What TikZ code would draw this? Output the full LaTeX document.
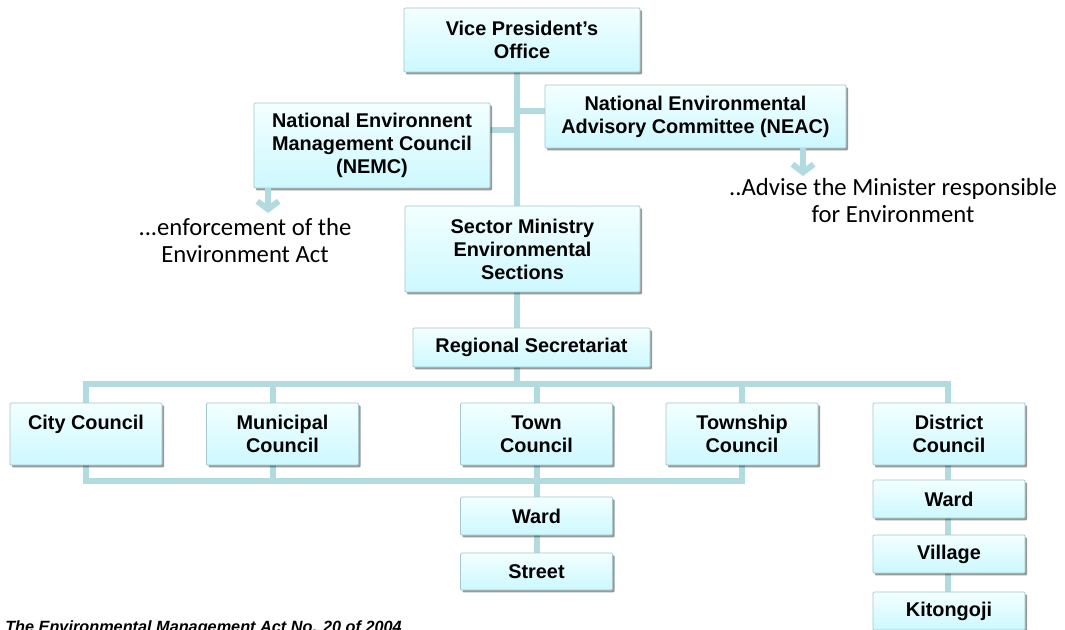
\documentclass[tikz,border=0pt]{standalone}
\usepackage{fontspec}
\setmainfont{Liberation Sans}
\newfontfamily\notefont{Carlito}
\usetikzlibrary{shadows,backgrounds,arrows.meta}
\pgfdeclarelayer{bottom}
\pgfsetlayers{bottom,background,main}
\definecolor{boxtop}{HTML}{F3FFFF}
\definecolor{boxbot}{HTML}{CCF8FF}
\definecolor{boxline}{HTML}{A3C8CE}
\definecolor{conncol}{HTML}{B2DBDF}
\tikzset{
  box/.style={draw=boxline, line width=0.6pt, top color=boxtop, bottom color=boxbot,
    inner sep=0pt, align=center, rounded corners=0.8pt,
    font=\fontsize{14.9pt}{17.25pt}\selectfont\bfseries,
    drop shadow={shadow xshift=1.5pt, shadow yshift=-1.8pt, fill=black, opacity=0.4}},
  council/.style={box, minimum width=114pt, minimum height=46.5pt},
  small/.style={box, minimum width=114pt, minimum height=28.5pt},
  conn/.style={draw=conncol, line width=4.5pt, line cap=rect},
  arr/.style={draw=conncol, line width=4.5pt, -{Straight Barb[length=6pt,width=16pt]}},
  note/.style={align=center, inner sep=0pt, font=\notefont\fontsize{18.5pt}{20.25pt}\selectfont}
}
\begin{document}
\begin{tikzpicture}[x=0.75pt,y=-0.75pt]
\useasboundingbox (0,0) rectangle (1065,629);
\begin{pgfonlayer}{bottom}
\fill[white] (0,0) rectangle (1065,629);
\end{pgfonlayer}

% boxes
\node[box, minimum width=177pt, minimum height=48pt] (vp) at (522,40) {Vice President's\\Office};
\node[box, minimum width=177pt, minimum height=63.75pt] (nemc) at (372,145.5) {National Environnent\\Management Council\\(NEMC)};
\node[box, minimum width=225.75pt, minimum height=47.25pt] (neac) at (695.5,116.5) {National Environmental\\Advisory Committee (NEAC)};
\node[box, minimum width=176.25pt, minimum height=64.5pt] (sector) at (522.5,249) {Sector Ministry\\Environmental\\Sections};
\node[box, minimum width=177.75pt, minimum height=29.25pt] (regional) at (531.5,347.5) {Regional Secretariat};

\node[council] (city) at (86,434) {City Council\\\phantom{C}};
\node[council] (municipal) at (282.5,434) {Municipal\\Council};
\node[council] (town) at (536.5,434) {Town\\Council};
\node[council] (township) at (742,434) {Township\\Council};
\node[council] (district) at (949,434) {District\\Council};

\node[small] (ward1) at (536.5,516) {Ward};
\node[small, minimum height=27.75pt] (street) at (536.5,571.5) {Street};
\node[small] (ward2) at (949,499) {Ward};
\node[small] (village) at (949,554) {Village};
\node[small] (kitongoji) at (949,611) {Kitongoji};

% notes
\node[note] (enf) at (245,241) {...enforcement of the\\Environment Act};
\node[note] (adv) at (893,201) {..Advise the Minister responsible\\for Environment};

\node[anchor=base west, inner sep=0pt, font=\fontsize{12.2pt}{14pt}\selectfont\bfseries\itshape] (src) at (5,632) {The Environmental Management Act No. 20 of 2004};

% connector coordinates
\coordinate (tx) at (517,0);
\coordinate (j1) at (517,130);
\coordinate (j2) at (517,111);
\coordinate (bus) at (517,384);
\coordinate (bus2) at (0,481);
\coordinate (xm) at (273,0);
\coordinate (xl) at (537,0);
\coordinate (xr) at (948,0);
\coordinate (a1) at (268,213);
\coordinate (a2) at (803,176);

\begin{scope}[on background layer]
\draw[conn] (vp.south -| tx) -- (sector.north -| tx);
\draw[conn] (nemc.east |- j1) -- (j1);
\draw[conn] (j2) -- (neac.west |- j2);
\draw[conn] (sector.south -| tx) -- (regional.north -| tx);
\draw[conn] (regional.south -| tx) -- (bus);
\draw[conn] (city.north) -- (city.north |- bus) -- (xr |- bus) -- (district.north -| xr);
\draw[conn] (municipal.north -| xm) -- (xm |- bus);
\draw[conn] (town.north -| xl) -- (xl |- bus);
\draw[conn] (township.north) -- (township.north |- bus);
\draw[conn] (city.south) -- (city.south |- bus2) -- (township.south |- bus2) -- (township.south);
\draw[conn] (municipal.south -| xm) -- (xm |- bus2);
\draw[conn] (town.south -| xl) -- (ward1.north -| xl);
\draw[conn] (ward1.south -| xl) -- (street.north -| xl);
\draw[conn] (district.south -| xr) -- (ward2.north -| xr);
\draw[conn] (ward2.south -| xr) -- (village.north -| xr);
\draw[conn] (village.south -| xr) -- (kitongoji.north -| xr);
\end{scope}
\draw[arr] (nemc.south -| a1) -- (a1);
\draw[arr] (neac.south -| a2) -- (a2);
\end{tikzpicture}
\end{document}
